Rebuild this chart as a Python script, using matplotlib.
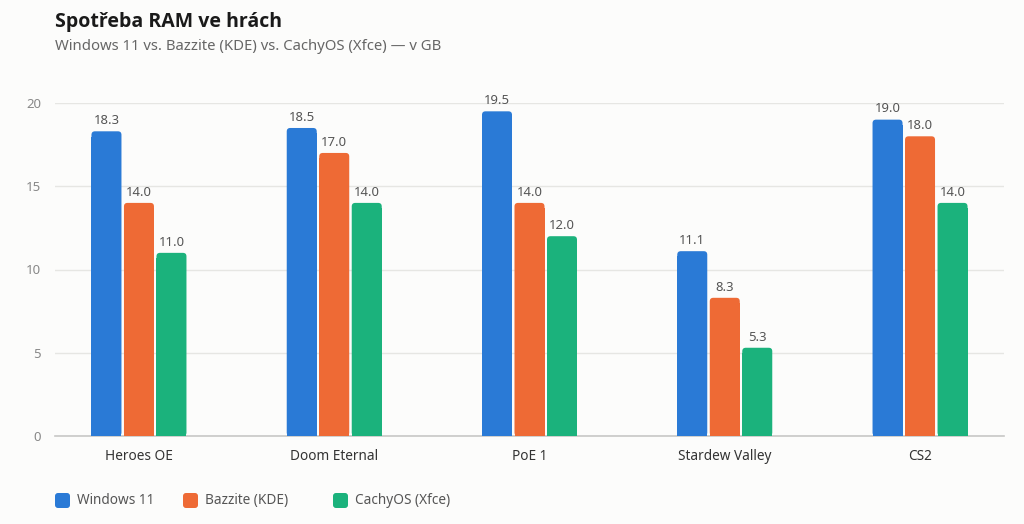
import matplotlib
matplotlib.use("Agg")
import matplotlib.pyplot as plt
from matplotlib.patches import FancyBboxPatch
from matplotlib import font_manager
import numpy as np

categories = ["Heroes OE", "Doom Eternal", "PoE 1", "Stardew Valley", "CS2"]
series_names = ["Windows 11", "Bazzite (KDE)", "CachyOS (Xfce)"]
windows11 = [18.3, 18.5, 19.5, 11.1, 19.0]
bazzite = [14.0, 17.0, 14.0, 8.3, 18.0]
cachyos = [11.0, 14.0, 12.0, 5.3, 14.0]
yticks = [0, 5, 10, 15, 20]
title = "Spotřeba RAM ve hrách"
subtitle = "Windows 11 vs. Bazzite (KDE) vs. CachyOS (Xfce) — v GB"

colors = ["#2a7ad6", "#ee6a35", "#1bb27c"]
bg = "#fcfcfb"

plt.rcParams['font.family'] = ['Noto Sans', 'DejaVu Sans']

# pick a family that has a real bold face for the title
bold_family = 'Noto Sans'
try:
    f = font_manager.findfont(font_manager.FontProperties(family='Noto Sans', weight='bold'),
                              fallback_to_default=False)
    if 'bold' not in f.lower():
        bold_family = 'Open Sans'
except Exception:
    bold_family = 'Open Sans'

W, H = 1024, 524
fig = plt.figure(figsize=(W / 100, H / 100), dpi=100, facecolor=bg)

left, right, bottom_px, top_px = 55, 1004, 436, 103
ax = fig.add_axes([left / W, (H - bottom_px) / H, (right - left) / W, (bottom_px - top_px) / H])
ax.set_facecolor(bg)

x = np.arange(len(categories))
xpad = 0.43
ax.set_xlim(-xpad, len(categories) - 1 + xpad)
ax.set_ylim(0, 20)

px_per_x = (right - left) / (len(categories) - 1 + 2 * xpad)
px_per_y = (bottom_px - top_px) / 20.0
bw = 30 / px_per_x
step = 32.5 / px_per_x
r_px = 3.5
aspect = (1 / px_per_y) / (1 / px_per_x)

for i, (vals, c) in enumerate(zip([windows11, bazzite, cachyos], colors)):
    bars = ax.bar(x + (i - 1) * step, vals, width=bw, color=c, alpha=0)
    for b, v in zip(bars, vals):
        bx, by, bwid, bh = b.get_x(), b.get_y(), b.get_width(), b.get_height()
        r = r_px / px_per_x
        ry = r_px / px_per_y
        p = FancyBboxPatch((bx, by), bwid, bh,
                           boxstyle=f"round,pad=0,rounding_size={r}",
                           mutation_aspect=aspect, facecolor=c,
                           edgecolor="none", zorder=3)
        ax.add_patch(p)
        ax.add_patch(plt.Rectangle((bx, by), bwid, max(bh - ry * 1.5, 0),
                                   facecolor=c, edgecolor="none", zorder=3))
        ax.annotate(f"{v:.1f}", (bx + bwid / 2, bh), xytext=(0, 3),
                    textcoords="offset points", ha="center", va="bottom",
                    fontsize=9.4, color="#555555", zorder=4, annotation_clip=False)

ax.set_yticks(yticks)
ax.set_yticklabels([str(t) for t in yticks])
ax.yaxis.grid(True, color="#e6e6e3", linewidth=1)
ax.set_axisbelow(True)
ax.set_xticks(x)
ax.set_xticklabels(categories)
ax.tick_params(axis="both", length=0)
ax.tick_params(axis="y", labelsize=9.5, labelcolor="#888888", pad=10)
ax.tick_params(axis="x", labelsize=9.8, labelcolor="#333333", pad=9)
for s in ["top", "right", "left"]:
    ax.spines[s].set_visible(False)
ax.spines["bottom"].set_color("#c8c8c6")
ax.spines["bottom"].set_linewidth(1.2)

ov = fig.add_axes([0, 0, 1, 1], facecolor="none")
ov.set_xlim(0, W)
ov.set_ylim(H, 0)
ov.axis("off")
ov.text(55, 22, title, fontsize=14, fontweight="bold", family=[bold_family, 'DejaVu Sans'],
        color="#1a1a1a", va="center", ha="left")
ov.text(55, 47, subtitle, fontsize=10.7, color="#666666", va="center", ha="left")

leg_x = [55, 183, 333]
for lx, name, c in zip(leg_x, series_names, colors):
    ov.add_patch(FancyBboxPatch((lx, 493), 15, 15, boxstyle="round,pad=0,rounding_size=3",
                                facecolor=c, edgecolor="none"))
    ov.text(lx + 22, 500.5, name, fontsize=9.8, color="#555555", va="center", ha="left")

fig.savefig("out.png", dpi=100, facecolor=bg)
